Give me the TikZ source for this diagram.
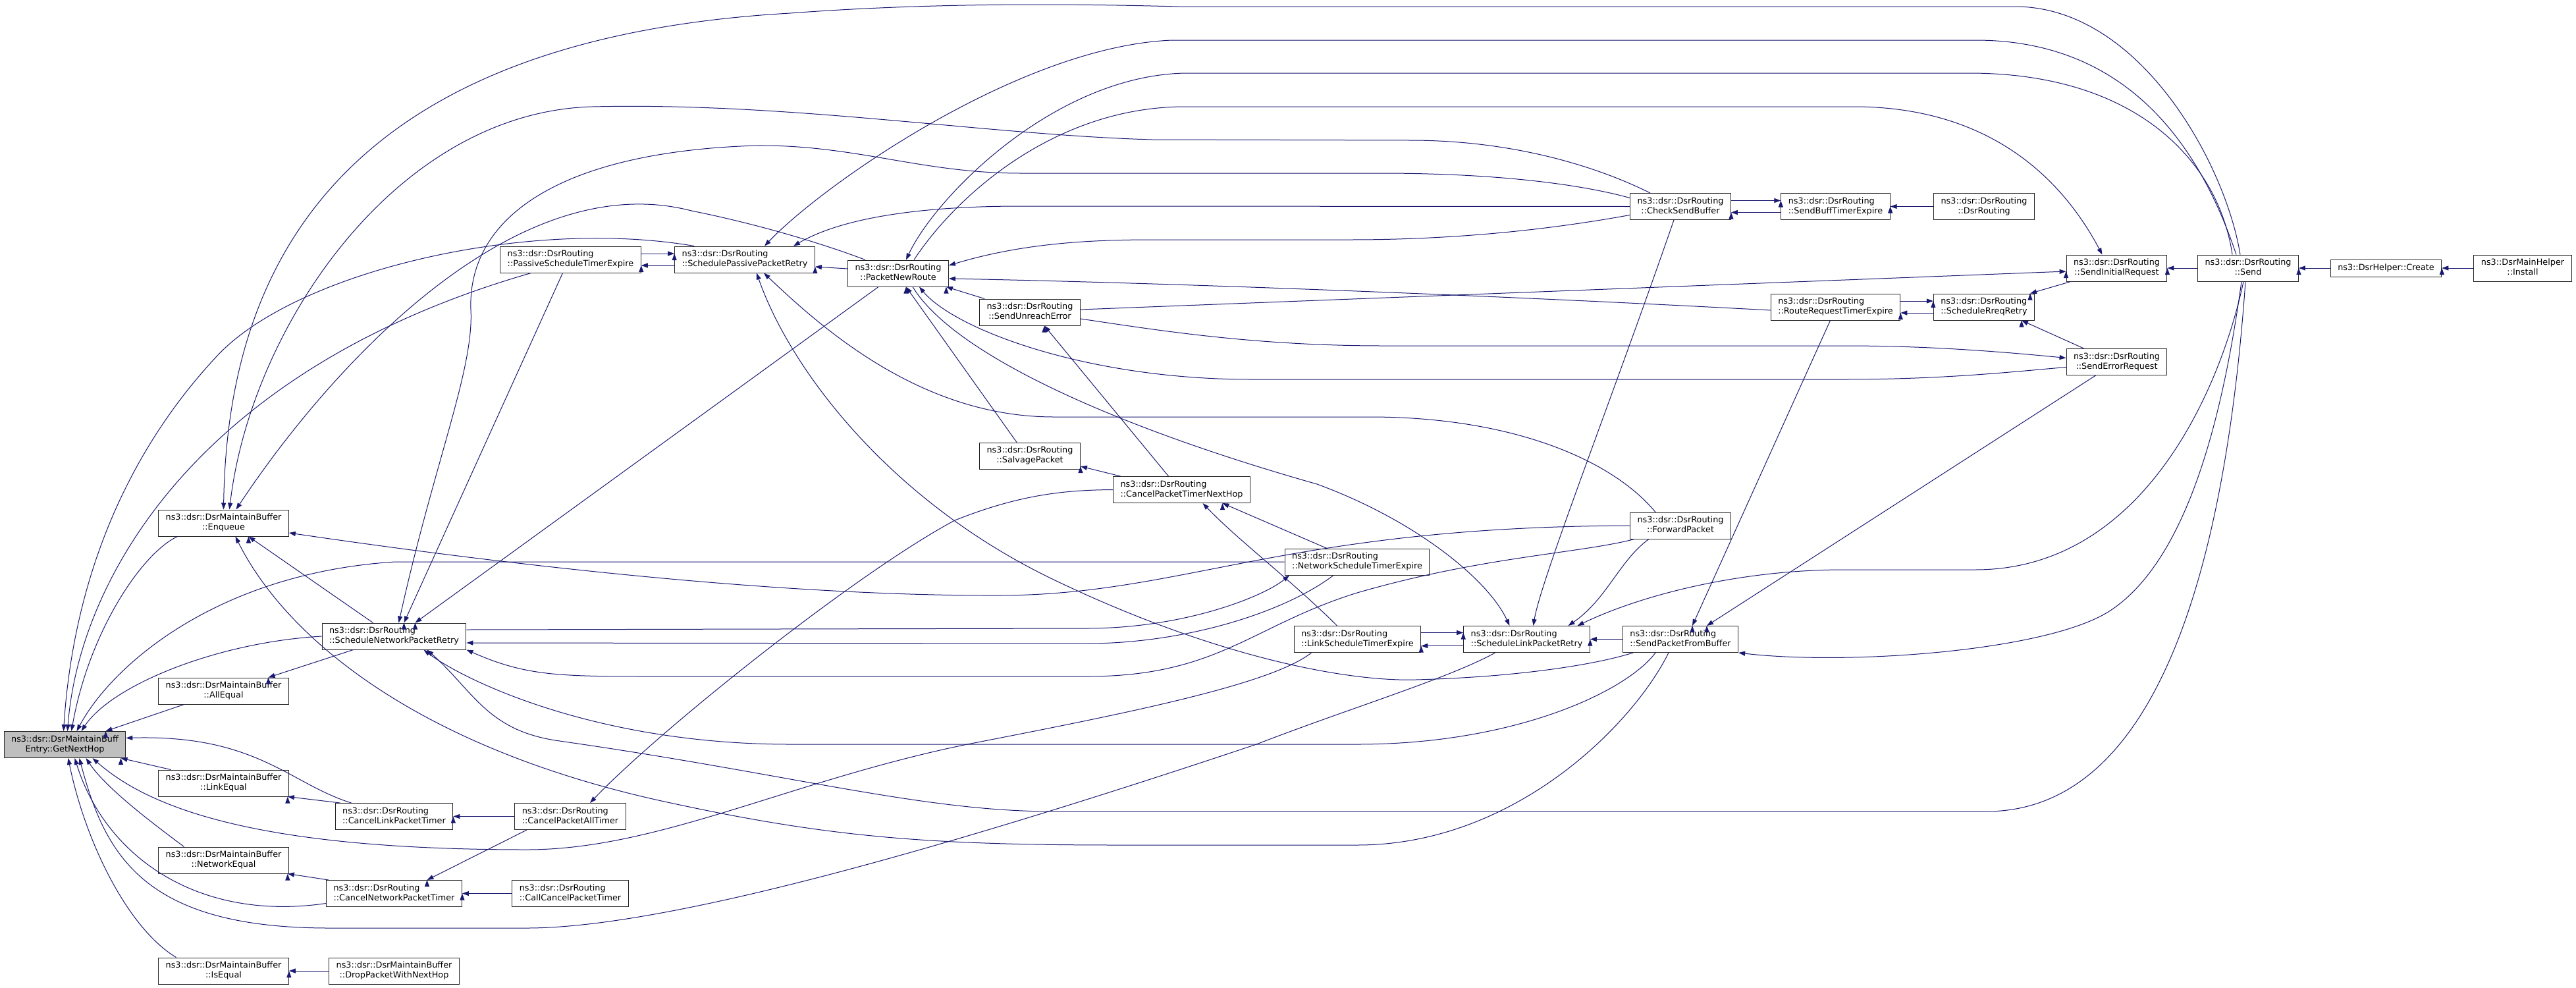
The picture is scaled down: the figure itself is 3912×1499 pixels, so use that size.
\documentclass[tikz,border=0pt]{standalone}
\usepackage{fontspec}
\setmainfont{DejaVu Sans}
\usetikzlibrary{arrows.meta}
\definecolor{edgeblue}{RGB}{25,25,112}
\newsavebox\fnboxA \newsavebox\fnboxB \newlength\fnwd
% first line left, last line centred (as dot does it)
\newcommand\fnlabel[2]{\sbox\fnboxA{#1}\sbox\fnboxB{#2}%
  \setlength\fnwd{\wd\fnboxA}\ifdim\wd\fnboxB>\fnwd\setlength\fnwd{\wd\fnboxB}\fi
  \begin{tabular}{@{}c@{}}\makebox[\fnwd][l]{\usebox\fnboxA}\\\usebox\fnboxB\end{tabular}}
\begin{document}
\begin{tikzpicture}[
                > = {Triangle[length=10pt,width=7pt]}, % arrow head style
                x = 1pt, y = -1pt, % pixel grid, y grows downwards
                line width = 1pt,
                every edge/.style = {draw = edgeblue},
                callline/.style = {<-, draw = edgeblue} % arrow at the callee
            ]

            \tikzstyle{every node}=[draw = black!85, fill = white, rectangle,
            inner xsep = 11pt, inner ysep = 0pt, minimum height = 40pt,
            font = \fontsize{12.8}{15}\selectfont]

            \useasboundingbox (0,0) rectangle (3912,1499);

            % maintain buffer
            \node (gnh) [fill = black!25] at (98.5,1130.5) {\fnlabel{ns3::dsr::DsrMaintainBuff}{Entry::GetNextHop}};
            \node (enq) at (339.5,794) {\fnlabel{ns3::dsr::DsrMaintainBuffer}{::Enqueue}};
            \node (alleq) at (339.5,1049) {\fnlabel{ns3::dsr::DsrMaintainBuffer}{::AllEqual}};
            \node (linkeq) at (339.5,1189) {\fnlabel{ns3::dsr::DsrMaintainBuffer}{::LinkEqual}};
            \node (neteq) at (339.5,1306) {\fnlabel{ns3::dsr::DsrMaintainBuffer}{::NetworkEqual}};
            \node (iseq) at (339.5,1474) {\fnlabel{ns3::dsr::DsrMaintainBuffer}{::IsEqual}};
            \node (drop) at (598.5,1474) {\fnlabel{ns3::dsr::DsrMaintainBuffer}{::DropPacketWithNextHop}};

            % routing
            \node (snpr) at (598.5,966) {\fnlabel{ns3::dsr::DsrRouting}{::ScheduleNetworkPacketRetry}};
            \node (clpt) at (598.5,1239.5) {\fnlabel{ns3::dsr::DsrRouting}{::CancelLinkPacketTimer}};
            \node (cnpt) at (598.5,1356.5) {\fnlabel{ns3::dsr::DsrRouting}{::CancelNetworkPacketTimer}};
            \node (pste) at (866.5,394) {\fnlabel{ns3::dsr::DsrRouting}{::PassiveScheduleTimerExpire}};
            \node (cpat) at (866,1239.5) {\fnlabel{ns3::dsr::DsrRouting}{::CancelPacketAllTimer}};
            \node (ccpt) at (866,1356.5) {\fnlabel{ns3::dsr::DsrRouting}{::CallCancelPacketTimer}};
            \node (sppr) at (1131,394) {\fnlabel{ns3::dsr::DsrRouting}{::SchedulePassivePacketRetry}};
            \node (pnr) at (1364,415) {\fnlabel{ns3::dsr::DsrRouting}{::PacketNewRoute}};
            \node (sue) at (1564,474) {\fnlabel{ns3::dsr::DsrRouting}{::SendUnreachError}};
            \node (salv) at (1564,692) {\fnlabel{ns3::dsr::DsrRouting}{::SalvagePacket}};
            \node (cptnh) at (1794.5,743.5) {\fnlabel{ns3::dsr::DsrRouting}{::CancelPacketTimerNextHop}};
            \node (nste) at (2061,853) {\fnlabel{ns3::dsr::DsrRouting}{::NetworkScheduleTimerExpire}};
            \node (lste) at (2061.5,970.5) {\fnlabel{ns3::dsr::DsrRouting}{::LinkScheduleTimerExpire}};
            \node (slpr) at (2318.5,970.5) {\fnlabel{ns3::dsr::DsrRouting}{::ScheduleLinkPacketRetry}};
            \node (csb) at (2552,313.5) {\fnlabel{ns3::dsr::DsrRouting}{::CheckSendBuffer}};
            \node (fwd) at (2552,798) {\fnlabel{ns3::dsr::DsrRouting}{::ForwardPacket}};
            \node (spfb) at (2552,970.5) {\fnlabel{ns3::dsr::DsrRouting}{::SendPacketFromBuffer}};
            \node (sbte) at (2787.5,313.5) {\fnlabel{ns3::dsr::DsrRouting}{::SendBuffTimerExpire}};
            \node (rrte) at (2787.5,466) {\fnlabel{ns3::dsr::DsrRouting}{::RouteRequestTimerExpire}};
            \node (ctor) at (3013,313.5) {\fnlabel{ns3::dsr::DsrRouting}{::DsrRouting}};
            \node (srr) at (3013,466) {\fnlabel{ns3::dsr::DsrRouting}{::ScheduleRreqRetry}};
            \node (sir) at (3214.5,407) {\fnlabel{ns3::dsr::DsrRouting}{::SendInitialRequest}};
            \node (ser) at (3214.5,549.5) {\fnlabel{ns3::dsr::DsrRouting}{::SendErrorRequest}};
            \node (send) at (3414,407) {\fnlabel{ns3::dsr::DsrRouting}{::Send}};
            \node (create) [minimum height = 26pt] at (3623.5,407) {ns3::DsrHelper::Create};
            \node (install) at (3831,407) {\fnlabel{ns3::DsrMainHelper}{::Install}};

            % callers of GetNextHop
            \draw[callline] ([xshift=10pt]gnh.north) .. controls (135,960) and (215,840) .. ([xshift=-70pt]enq.south);
            \path[callline] ([xshift=62pt]gnh.north) edge ([xshift=-60pt]alleq.south);
            \path[callline] ([xshift=85pt]gnh.south) edge ([xshift=-80pt]linkeq.north);
            \draw[callline] ([xshift=32pt]gnh.south) .. controls (160,1195) and (225,1245) .. ([xshift=-60pt]neteq.north);
            \draw[callline] ([xshift=5pt]gnh.south) .. controls (130,1280) and (195,1410) .. ([xshift=-72pt]iseq.north);
            \draw[callline] ([xshift=25pt]gnh.north) .. controls (170,1040) and (330,975) .. (snpr.west);
            \draw[callline] ([yshift=10pt]gnh.east) .. controls (390,1115) and (440,1190) .. ([xshift=-65pt]clpt.north);
            \draw[callline] ([xshift=15pt]gnh.south) .. controls (160,1300) and (300,1400) .. ([yshift=-15pt]cnpt.west);
            \draw[callline] ([xshift=4pt]gnh.north) .. controls (120,880) and (300,560) .. ([xshift=-60pt]pste.south);
            \draw[callline] ([xshift=-2pt]gnh.north) .. controls (110,900) and (180,700) .. (330,540)
              .. controls (450,412) and (800,330) .. ([xshift=-77pt]sppr.north);
            \draw[callline] ([xshift=18pt]gnh.north) .. controls (170,1010) and (330,870) .. (600,853) -- (nste.west);
            \draw[callline] ([xshift=42pt]gnh.south) .. controls (230,1230) and (400,1290) .. (800,1290)
              .. controls (1000,1290) and (1200,1185) .. (1469,1130) .. controls (1700,1085) and (1930,1040) .. ([xshift=-70pt]lste.south);
            \draw[callline] ([xshift=22pt]gnh.south) .. controls (160,1300) and (220,1409) .. (500,1409) -- (800,1409)
              .. controls (1000,1409) and (1400,1300) .. (1908,1130) .. controls (2050,1075) and (2200,1030) .. ([xshift=-48pt]slpr.south);

            % buffer helpers
            \path[callline] (iseq.east) edge (drop.west);
            \path[callline] ([xshift=-2pt]neteq.south east) edge ([xshift=4pt]cnpt.north west);
            \path[callline] ([xshift=-2pt]linkeq.south east) edge ([xshift=8pt]clpt.north west);
            \path[callline] ([xshift=68pt]alleq.north) edge ([xshift=-62pt]snpr.south);
            \path[callline] ([xshift=38pt]enq.south) edge ([xshift=-32pt]snpr.north);

            % callers of Enqueue
            \draw[callline] ([yshift=-15pt]enq.east) .. controls (800,862) and (1200,905) .. (1518,904)
              .. controls (1800,903) and (1950,800) .. (fwd.west);
            \draw[callline] ([xshift=18pt]enq.south) .. controls (430,960) and (620,1130) .. (1000,1215)
              .. controls (1250,1270) and (1400,1283) .. (1700,1283) -- (2061,1283) .. controls (2300,1283) and (2480,1100) .. ([xshift=-18pt]spfb.south);
            \draw[callline] ([xshift=9pt]enq.north) .. controls (380,500) and (600,170) .. (900,162)
              .. controls (1200,155) and (1500,205) .. (1750,212) -- (2141,213) .. controls (2330,213) and (2460,270) .. ([xshift=-46pt]csb.north);
            \draw[callline] (enq.north) .. controls (345,420) and (500,60) .. (1200,20)
              .. controls (1400,5) and (1600,5) .. (1789,10) -- (3060,10) .. controls (3250,10) and (3380,250) .. ([xshift=-12pt]send.north);
            \draw[callline] ([xshift=19pt]enq.north) .. controls (500,560) and (780,250) .. (1050,320)
              .. controls (1150,340) and (1250,370) .. ([xshift=-50pt]pnr.north);

            % callers of ScheduleNetworkPacketRetry
            \path[callline] ([xshift=15pt]snpr.north) edge ([xshift=-12pt]pste.south);
            \path[callline] ([xshift=32pt]snpr.north) edge ([xshift=-30pt]pnr.south);
            \draw[callline] ([xshift=7pt]snpr.north) .. controls (660,700) and (720,560) .. (715,470)
              .. controls (710,330) and (850,230) .. (1150,221) .. controls (1300,220) and (1400,263) .. (1550,263)
              -- (2095,263) .. controls (2300,263) and (2420,285) .. ([yshift=13pt]csb.west);
            \draw[callline] ([xshift=-103pt]nste.south) .. controls (1920,905) and (1800,954) .. (1650,954) -- ([yshift=10pt]snpr.east);
            \draw[callline] ([yshift=-10pt]snpr.east) -- (1650,977) .. controls (1800,977) and (1950,930) .. ([xshift=-36pt]nste.south);
            \draw[callline] (snpr.south east) .. controls (800,1027) and (850,1027) .. (1000,1027) -- (1650,1027)
              .. controls (1850,1027) and (1900,950) .. (2061,900) .. controls (2250,845) and (2400,840) .. ([xshift=-70pt]fwd.south);
            \draw[callline] ([xshift=45pt]snpr.south) .. controls (700,1030) and (900,1130) .. (1200,1130) -- (2061,1130)
              .. controls (2300,1130) and (2470,1050) .. ([xshift=-38pt]spfb.south);
            \draw[callline] ([xshift=50pt]snpr.south) .. controls (720,1050) and (740,1110) .. (850,1125)
              .. controls (1200,1175) and (1400,1232) .. (1600,1232) -- (3016,1232) .. controls (3280,1232) and (3380,850) .. ([xshift=-4pt]send.south);

            % timers
            \path[callline] (clpt.east) edge (cpat.west); \path[callline] (cnpt.east) edge (ccpt.west);
            \path[callline] ([xshift=50pt]cnpt.north) edge ([xshift=-66pt]cpat.south);
            \draw[callline] ([xshift=30pt]cpat.north) .. controls (1000,1110) and (1300,870) .. (1450,790)
              .. controls (1550,750) and (1620,744) .. (cptnh.west);

            % passive retry
            \path[callline] ([yshift=-9pt]pste.east) edge ([yshift=-9pt]sppr.west);
            \path[callline] ([yshift=9pt]sppr.west) edge ([yshift=9pt]pste.east);
            \path[callline] ([yshift=-11pt]sppr.east) edge ([yshift=7pt]pnr.west);
            \draw[callline] ([xshift=74pt]sppr.north) .. controls (1280,330) and (1400,313) .. (1550,313) -- (csb.west);
            \draw[callline] ([xshift=30pt]sppr.north) .. controls (1250,280) and (1550,70) .. (1780,61) -- (3000,61)
              .. controls (3250,61) and (3350,250) .. ([xshift=-18pt]send.north);
            \draw[callline] ([xshift=18pt]sppr.south) .. controls (1200,560) and (1350,760) .. (1600,880)
              .. controls (1850,1000) and (2050,1035) .. (2150,1032) .. controls (2300,1028) and (2420,1010) .. ([xshift=-72pt]spfb.south);
            \draw[callline] ([xshift=29pt]sppr.south) .. controls (1250,500) and (1400,633) .. (1600,633) -- (2080,633)
              .. controls (2300,633) and (2450,700) .. ([xshift=-38pt]fwd.north);

            % callers of PacketNewRoute
            \path[callline] ([xshift=-4pt]pnr.south east) edge ([xshift=8pt]sue.north west);
            \path[callline] ([xshift=12pt]pnr.south) edge ([xshift=-20pt]salv.north);
            \draw[callline] ([yshift=12pt]pnr.east) .. controls (1550,370) and (1650,364) .. (1750,364) -- (2050,364)
              .. controls (2250,364) and (2400,340) .. ([yshift=-13pt]csb.west);
            \draw[callline] ([yshift=-8pt]pnr.east) .. controls (1800,430) and (2300,450) .. ([yshift=-5pt]rrte.west);
            \draw[callline] ([xshift=32pt]pnr.south) .. controls (1450,500) and (1650,576) .. (1900,576) -- (2800,576)
              .. controls (2950,576) and (3050,565) .. ([yshift=-8pt]ser.west);
            \draw[callline] ([xshift=12pt]pnr.north) .. controls (1420,300) and (1600,115) .. (1800,111) -- (2990,111)
              .. controls (3250,111) and (3370,250) .. ([xshift=-24pt]send.north);

            % next hop cancelling
            \path[callline] ([xshift=22pt]sue.south) edge ([xshift=-20pt]cptnh.north);
            \path[callline] ([yshift=-16pt]salv.east) edge ([xshift=-93pt]cptnh.north);
            \path[callline] ([xshift=62pt]cptnh.south) edge ([xshift=-46pt]nste.north);
            \draw[callline] ([xshift=32pt]cptnh.south) .. controls (1880,820) and (1960,880) .. ([xshift=-31pt]lste.north);

            % link retry
            \path[callline] ([yshift=-10pt]lste.east) edge ([yshift=-10pt]slpr.west);
            \path[callline] ([yshift=10pt]slpr.west) edge ([yshift=10pt]lste.east);
            \path[callline] (slpr.east) edge (spfb.west);
            \draw[callline] ([xshift=10pt]slpr.north) .. controls (2340,880) and (2450,600) .. ([xshift=-10pt]csb.south);
            \draw[callline] ([xshift=63pt]slpr.north) .. controls (2440,910) and (2460,850) .. ([xshift=-48pt]fwd.south);
            \draw[callline] ([xshift=77pt]slpr.north) .. controls (2500,900) and (2650,865) .. (2800,865) -- (3000,865)
              .. controls (3250,865) and (3370,600) .. ([xshift=-7pt]send.south);
            \draw[callline] ([xshift=-26pt]slpr.north) .. controls (2260,880) and (2150,790) .. (2000,735)
              .. controls (1700,650) and (1450,540) .. ([xshift=22pt]pnr.south);

            % send buffer
            \path[callline] ([yshift=-9pt]csb.east) edge ([yshift=-9pt]sbte.west);
            \path[callline] ([yshift=9pt]sbte.west) edge ([yshift=9pt]csb.east);
            \path[callline] (sbte.east) edge (ctor.west);

            % packets from buffer
            \draw[callline] (spfb.south east) .. controls (2800,1010) and (3100,990) .. (3200,930)
              .. controls (3330,850) and (3380,600) .. ([xshift=-10pt]send.south);
            \path[callline] ([xshift=40pt]spfb.north) edge ([xshift=-32pt]ser.south);
            \path[callline] ([xshift=18pt]spfb.north) edge ([xshift=-8pt]rrte.south);

            % route requests
            \path[callline] ([yshift=-9pt]rrte.east) edge ([yshift=-9pt]srr.west);
            \path[callline] ([yshift=9pt]srr.west) edge ([yshift=9pt]rrte.east);
            \path[callline] ([xshift=70pt]srr.north) edge ([xshift=-70pt]sir.south);
            \path[callline] ([xshift=57pt]srr.south) edge ([xshift=-50pt]ser.north);
            \path[callline] (sir.east) edge (send.west);
            \draw[callline] ([xshift=-22pt]sir.north) .. controls (3120,250) and (3000,162) .. (2815,162) -- (1800,162)
              .. controls (1600,162) and (1450,300) .. ([xshift=24pt]pnr.north);
            \path[callline] ([yshift=-5pt]sir.west) edge ([yshift=4pt]sue.east);
            \draw[callline] ([yshift=6pt]ser.west) .. controls (3000,530) and (2900,525) .. (2800,525) -- (2100,525)
              .. controls (1900,525) and (1750,500) .. ([yshift=-10pt]sue.east);

            % helpers
            \path[callline] (send.east) edge (create.west); \path[callline] (create.east) edge (install.west);

        \end{tikzpicture}
\end{document}
